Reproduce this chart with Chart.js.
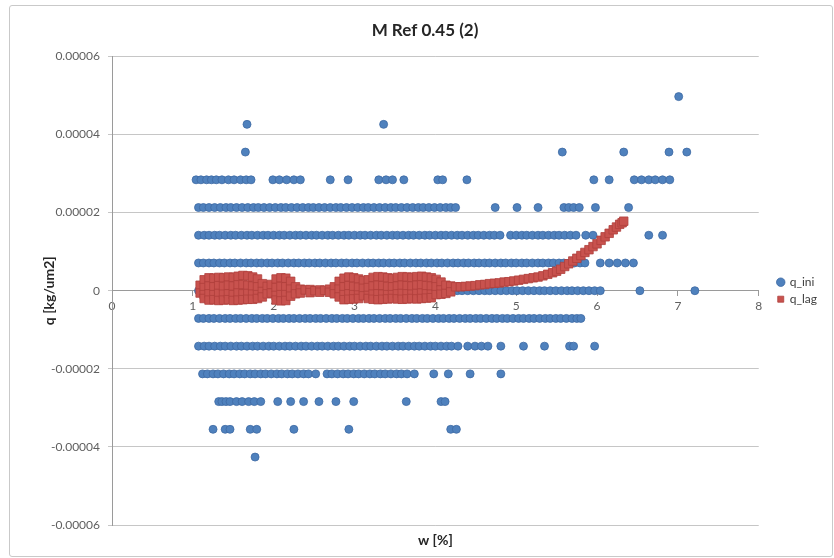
<!DOCTYPE html>
<html>
<head>
<meta charset="utf-8">
<script src="https://cdn.jsdelivr.net/npm/chart.js@4/dist/chart.umd.min.js"></script>
<style>
  body { margin: 0; background: #fff; }
  #wrap { position: relative; width: 834px; height: 558px; }
  #frame { position: absolute; left: 9px; top: 5px; width: 822px; height: 550px;
           border: 1px solid #c9c9c9; border-radius: 3px; }
  #chart { position: absolute; left: 0; top: 0; }
</style>
</head>
<body>
<div id="wrap">
  <div id="frame"></div>
  <canvas id="chart" width="834" height="558"></canvas>
</div>
<script>
// q_ini sits on discrete levels, one list of w values per level
const iniLevels = [4.97e-5, 4.26e-5, 3.55e-5, 2.84e-5, 2.13e-5, 1.42e-5, 7.1e-6, 0,
                   -7.1e-6, -1.42e-5, -2.13e-5, -2.84e-5, -3.55e-5, -4.26e-5];

const wLevelP7 = [7.01];
const wLevelP6 = [1.67, 3.36];
const wLevelP5 = [1.65, 5.57, 6.33, 6.89, 7.11];
const wLevelP4 = [1.04, 1.1, 1.17, 1.23, 1.29, 1.36, 1.44, 1.51, 1.59, 1.66, 1.72, 1.99, 2.07, 2.16, 2.25, 2.33,
  2.7, 2.92, 3.3, 3.39, 3.47, 3.61, 4.03, 4.09, 4.39, 5.96, 6.15, 6.46, 6.55, 6.64, 6.72, 6.81, 6.9];
const wLevelP3 = [1.07, 1.13, 1.2, 1.27, 1.34, 1.41, 1.47, 1.54, 1.61, 1.68, 1.75, 1.81, 1.88, 1.95, 2.02, 2.09,
  2.15, 2.22, 2.29, 2.36, 2.43, 2.49, 2.56, 2.63, 2.7, 2.77, 2.83, 2.9, 2.97, 3.04, 3.11, 3.17, 3.24, 3.31, 3.38,
  3.45, 3.51, 3.58, 3.65, 3.72, 3.79, 3.85, 3.92, 3.99, 4.06, 4.13, 4.19, 4.25, 4.74, 5.01, 5.27, 5.59, 5.65,
  5.71, 5.78, 5.98, 6.39];
const wLevelP2 = [1.07, 1.14, 1.2, 1.27, 1.33, 1.4, 1.47, 1.53, 1.6, 1.67, 1.73, 1.8, 1.87, 1.93, 2.0, 2.07, 2.13,
  2.2, 2.27, 2.33, 2.4, 2.47, 2.53, 2.6, 2.67, 2.73, 2.8, 2.87, 2.93, 3.0, 3.07, 3.13, 3.2, 3.27, 3.33, 3.4, 3.47,
  3.53, 3.6, 3.67, 3.73, 3.8, 3.87, 3.93, 4.0, 4.07, 4.13, 4.2, 4.27, 4.33, 4.4, 4.47, 4.53, 4.6, 4.67, 4.73, 4.8,
  4.93, 5.0, 5.07, 5.13, 5.2, 5.27, 5.33, 5.4, 5.47, 5.53, 5.6, 5.67, 5.74, 5.86, 5.95, 6.64, 6.81];
const wLevelP1 = [1.07, 1.13, 1.2, 1.26, 1.33, 1.39, 1.46, 1.52, 1.59, 1.66, 1.72, 1.79, 1.85, 1.92, 1.98, 2.05,
  2.11, 2.18, 2.25, 2.31, 2.38, 2.44, 2.51, 2.57, 2.64, 2.71, 2.77, 2.84, 2.9, 2.97, 3.03, 3.1, 3.17, 3.23, 3.3,
  3.36, 3.43, 3.49, 3.56, 3.62, 3.69, 3.76, 3.82, 3.89, 3.95, 4.02, 4.08, 4.15, 4.22, 4.28, 4.35, 4.41, 4.48, 4.54,
  4.61, 4.67, 4.74, 4.81, 4.87, 4.94, 5.0, 5.07, 5.13, 5.2, 5.27, 5.33, 5.4, 5.46, 5.53, 5.59, 5.66, 5.72, 5.79,
  5.85, 6.04, 6.15, 6.25, 6.35, 6.45];
const wLevel0 = [1.07, 1.14, 1.21, 1.27, 1.34, 1.41, 1.48, 1.55, 1.61, 1.68, 1.75, 1.82, 1.89, 1.95, 2.02, 2.09,
  2.16, 2.23, 2.29, 2.36, 2.43, 2.5, 2.57, 2.63, 2.7, 2.77, 2.84, 2.91, 2.97, 3.04, 3.11, 3.18, 3.25, 3.31, 3.38,
  3.45, 3.52, 3.59, 3.65, 3.72, 3.79, 3.86, 3.93, 3.99, 4.06, 4.13, 4.2, 4.27, 4.33, 4.4, 4.47, 4.54, 4.61, 4.67,
  4.74, 4.81, 4.88, 4.95, 5.01, 5.08, 5.15, 5.22, 5.29, 5.35, 5.42, 5.49, 5.56, 5.63, 5.69, 5.76, 5.83, 5.9, 5.97,
  6.04, 6.53, 7.21];
const wLevelM1 = [1.07, 1.13, 1.2, 1.26, 1.33, 1.4, 1.46, 1.53, 1.59, 1.66, 1.73, 1.79, 1.86, 1.92, 1.99, 2.06,
  2.12, 2.19, 2.25, 2.32, 2.39, 2.45, 2.52, 2.58, 2.65, 2.72, 2.78, 2.85, 2.91, 2.98, 3.05, 3.11, 3.18, 3.24, 3.31,
  3.38, 3.44, 3.51, 3.57, 3.64, 3.71, 3.77, 3.84, 3.9, 3.97, 4.04, 4.1, 4.17, 4.23, 4.3, 4.37, 4.43, 4.5, 4.56,
  4.63, 4.7, 4.76, 4.83, 4.89, 4.96, 5.03, 5.09, 5.16, 5.22, 5.29, 5.36, 5.42, 5.49, 5.55, 5.62, 5.69, 5.75, 5.8];
const wLevelM2 = [1.07, 1.14, 1.2, 1.27, 1.34, 1.4, 1.47, 1.54, 1.6, 1.67, 1.74, 1.8, 1.87, 1.94, 2.0, 2.07, 2.14,
  2.2, 2.27, 2.34, 2.4, 2.47, 2.54, 2.6, 2.67, 2.74, 2.8, 2.87, 2.94, 3.0, 3.07, 3.14, 3.2, 3.27, 3.34, 3.4, 3.47,
  3.54, 3.6, 3.67, 3.74, 3.8, 3.87, 3.94, 4.0, 4.07, 4.14, 4.2, 4.28, 4.4, 4.49, 4.57, 4.65, 4.81, 5.09, 5.35,
  5.66, 5.71, 5.97];
const wLevelM3 = [1.12, 1.18, 1.25, 1.31, 1.38, 1.45, 1.51, 1.58, 1.64, 1.71, 1.77, 1.84, 1.9, 1.97, 2.04, 2.1,
  2.17, 2.23, 2.3, 2.37, 2.43, 2.52, 2.66, 2.72, 2.79, 2.86, 2.92, 2.99, 3.05, 3.12, 3.19, 3.25, 3.32, 3.38, 3.45,
  3.52, 3.58, 3.65, 3.74, 3.98, 4.16, 4.43, 4.81];
const wLevelM4 = [1.32, 1.36, 1.41, 1.46, 1.54, 1.61, 1.69, 1.76, 1.84, 2.05, 2.21, 2.37, 2.56, 2.77, 2.99, 3.64,
  4.07, 4.12];
const wLevelM5 = [1.25, 1.4, 1.46, 1.71, 1.79, 2.25, 2.93, 4.19, 4.26];
const wLevelM6 = [1.77];

const iniRows = [wLevelP7, wLevelP6, wLevelP5, wLevelP4, wLevelP3, wLevelP2, wLevelP1, wLevel0,
                 wLevelM1, wLevelM2, wLevelM3, wLevelM4, wLevelM5, wLevelM6];

// q_lag: w columns and the q values read at each column (the band is thick on the left)
const lagW = [1.09, 1.14, 1.20, 1.26, 1.32, 1.38, 1.44, 1.50, 1.56, 1.62, 1.68, 1.74, 1.80, 1.86, 1.92, 1.97,
  2.03, 2.09, 2.15, 2.21, 2.27, 2.33, 2.39, 2.45, 2.51, 2.57, 2.63, 2.69, 2.75,
  2.81, 2.87, 2.93, 2.99, 3.05, 3.11, 3.17, 3.23, 3.29, 3.35, 3.41, 3.47, 3.53, 3.59, 3.65, 3.71, 3.77, 3.83,
  3.89, 3.95, 4.01, 4.07, 4.13, 4.19,
  4.25, 4.31, 4.37, 4.43, 4.49, 4.55, 4.61, 4.67, 4.73, 4.79, 4.85, 4.91, 4.97, 5.03, 5.09, 5.15, 5.21, 5.27,
  5.33, 5.39, 5.45, 5.50, 5.55, 5.60, 5.65, 5.70, 5.75, 5.80, 5.85, 5.90, 5.95, 6.00, 6.05, 6.10, 6.15, 6.20,
  6.24, 6.28, 6.31, 6.33];
const lagQ = [
  [1.4e-6, -0.6e-6], [2.8e-6, 0.8e-6, -1.0e-6, -2.0e-6], [3.3e-6, 1.2e-6, -0.8e-6, -2.4e-6],
  [3.2e-6, 1.0e-6, -1.0e-6, -2.3e-6], [3.4e-6, 1.3e-6, -0.7e-6, -2.5e-6], [3.3e-6, 1.1e-6, -0.9e-6, -2.4e-6],
  [3.5e-6, 1.4e-6, -0.8e-6, -2.3e-6], [3.4e-6, 1.2e-6, -1.0e-6, -2.5e-6], [3.7e-6, 1.5e-6, -0.6e-6, -2.4e-6],
  [3.9e-6, 1.6e-6, -0.8e-6, -2.3e-6], [3.8e-6, 1.4e-6, -0.7e-6, -2.2e-6], [3.5e-6, 1.2e-6, -0.9e-6, -2.2e-6],
  [3.0e-6, 1.0e-6, -1.0e-6, -2.0e-6], [1.8e-6, -0.2e-6, -1.6e-6], [1.1e-6, -0.8e-6], [1.6e-6, -0.6e-6],
  [3.0e-6, 0.8e-6, -1.2e-6, -2.4e-6], [3.3e-6, 1.1e-6, -1.0e-6, -2.6e-6], [3.2e-6, 1.0e-6, -1.0e-6, -2.5e-6],
  [2.4e-6, 0.4e-6, -1.4e-6], [1.0e-6, -0.8e-6], [0.4e-6, -0.6e-6], [0.2e-6], [0.3e-6, -0.5e-6], [0],
  [0.2e-6, -0.4e-6], [0.1e-6], [0.4e-6, -0.4e-6], [1.0e-6, -0.8e-6],
  [2.4e-6, 0.4e-6, -1.6e-6], [3.2e-6, 1.0e-6, -1.0e-6, -2.3e-6], [3.5e-6, 1.3e-6, -0.8e-6, -2.2e-6],
  [3.3e-6, 1.1e-6, -1.0e-6, -2.1e-6], [3.0e-6, 0.9e-6, -1.1e-6, -2.0e-6], [2.6e-6, 0.6e-6, -1.3e-6],
  [2.8e-6, 0.8e-6, -1.2e-6, -2.0e-6], [3.4e-6, 1.2e-6, -0.9e-6, -2.2e-6], [3.6e-6, 1.4e-6, -0.8e-6, -2.3e-6],
  [3.5e-6, 1.3e-6, -0.9e-6, -2.2e-6], [3.3e-6, 1.1e-6, -1.0e-6, -2.1e-6], [3.1e-6, 1.0e-6, -1.0e-6, -2.0e-6],
  [3.4e-6, 1.2e-6, -0.8e-6, -2.1e-6], [3.6e-6, 1.4e-6, -0.7e-6, -2.2e-6], [3.5e-6, 1.3e-6, -0.8e-6, -2.1e-6],
  [3.4e-6, 1.2e-6, -0.9e-6, -2.0e-6], [3.6e-6, 1.4e-6, -0.7e-6, -2.1e-6], [3.7e-6, 1.5e-6, -0.6e-6, -2.0e-6],
  [3.5e-6, 1.3e-6, -0.8e-6, -1.9e-6], [3.3e-6, 1.2e-6, -0.9e-6, -1.8e-6], [2.9e-6, 1.0e-6, -1.0e-6],
  [2.2e-6, 0.2e-6, -0.9e-6], [1.4e-6, -0.7e-6], [1.2e-6, -0.3e-6],
  [1.0e-6], [1.0e-6], [1.1e-6], [1.2e-6], [1.3e-6], [1.5e-6], [1.6e-6], [1.8e-6], [1.9e-6], [2.0e-6],
  [2.2e-6], [2.3e-6], [2.5e-6], [2.7e-6], [2.9e-6], [3.1e-6], [3.3e-6], [3.5e-6], [3.8e-6], [4.2e-6],
  [4.6e-6], [5.0e-6], [5.5e-6], [6.2e-6], [6.9e-6], [7.6e-6], [8.3e-6], [9.0e-6], [9.8e-6], [1.05e-5],
  [1.13e-5], [1.2e-5], [1.29e-5], [1.38e-5], [1.47e-5], [1.56e-5], [1.63e-5], [1.70e-5], [1.74e-5], [1.78e-5]
];

const xTicks = [0, 1, 2, 3, 4, 5, 6, 7, 8];
const yTicks = [-0.00006, -0.00004, -0.00002, 0, 0.00002, 0.00004, 0.00006];
const yTickLabels = ['-0.00006', '-0.00004', '-0.00002', '0', '0.00002', '0.00004', '0.00006'];

const iniPoints = iniRows.flatMap((row, i) => row.map(w => ({x: w, y: iniLevels[i]})));
const lagPoints = lagW.flatMap((w, i) => lagQ[i].map(q => ({x: w, y: q})));

Chart.defaults.font.family = 'Lato, "Liberation Sans", sans-serif';

const ctx = document.getElementById('chart').getContext('2d');
new Chart(ctx, {
  type: 'scatter',
  data: {
    datasets: [
      {
        label: 'q_lag',
        data: lagPoints,
        pointStyle: 'rect',
        pointRadius: 6,
        backgroundColor: '#c8524e',
        borderColor: '#b0403c',
        borderWidth: 0.8
      },
      {
        label: 'q_ini',
        data: iniPoints,
        pointStyle: 'circle',
        pointRadius: 4,
        backgroundColor: '#4f81bd',
        borderColor: '#3d6aa3',
        borderWidth: 0.8
      }
    ]
  },
  options: {
    responsive: false,
    animation: false,
    layout: { padding: { top: 0, left: 23, right: 7, bottom: 0 } },
    plugins: {
      title: {
        display: true,
        text: 'M Ref 0.45 (2)',
        color: '#262626',
        font: { size: 17, weight: 'bold' },
        padding: { top: 20, bottom: 16 }
      },
      legend: {
        position: 'right',
        fullSize: false,
        reverse: true,
        labels: {
          usePointStyle: true,
          boxWidth: 6,
          boxHeight: 6,
          padding: 5,
          color: '#404040',
          font: { size: 12 }
        }
      },
      tooltip: { enabled: false }
    },
    scales: {
      x: {
        type: 'linear',
        min: 0,
        max: 8,
        position: { y: 0 },
        afterFit: s => { s.height = 0; },
        afterBuildTicks: s => { s.ticks = xTicks.map(v => ({value: v})); },
        ticks: { color: '#5f5f5f', font: { size: 12 }, padding: 3, maxRotation: 0 },
        grid: { drawOnChartArea: false, drawTicks: true, tickLength: 5, color: '#9a9a9a' },
        border: { color: '#9a9a9a' }
      },
      x2: {
        type: 'linear',
        position: 'bottom',
        afterFit: s => { s.height = 33; },
        ticks: { display: false },
        grid: { display: false },
        border: { display: false },
        title: {
          display: true,
          text: 'w [%]',
          color: '#262626',
          font: { size: 14, weight: 'bold' },
          padding: { top: 0, bottom: 9 }
        }
      },
      y: {
        type: 'linear',
        min: -0.00006,
        max: 0.00006,
        afterFit: s => { s.width = 89; },
        afterBuildTicks: s => { s.ticks = yTicks.map(v => ({value: v})); },
        ticks: {
          color: '#5f5f5f',
          font: { size: 12 },
          padding: 8,
          callback: (v, i) => yTickLabels[i]
        },
        grid: { color: '#c6c6c6', tickLength: 4 },
        border: { color: '#9a9a9a' },
        title: {
          display: true,
          text: 'q [kg/um2]',
          color: '#262626',
          font: { size: 14, weight: 'bold' },
          padding: { top: 18, bottom: 0 }
        }
      },
      y2: {
        type: 'linear',
        position: 'right',
        afterFit: s => { s.width = 14; },
        ticks: { display: false },
        grid: { display: false },
        border: { display: false }
      }
    }
  }
});
</script>
</body>
</html>
